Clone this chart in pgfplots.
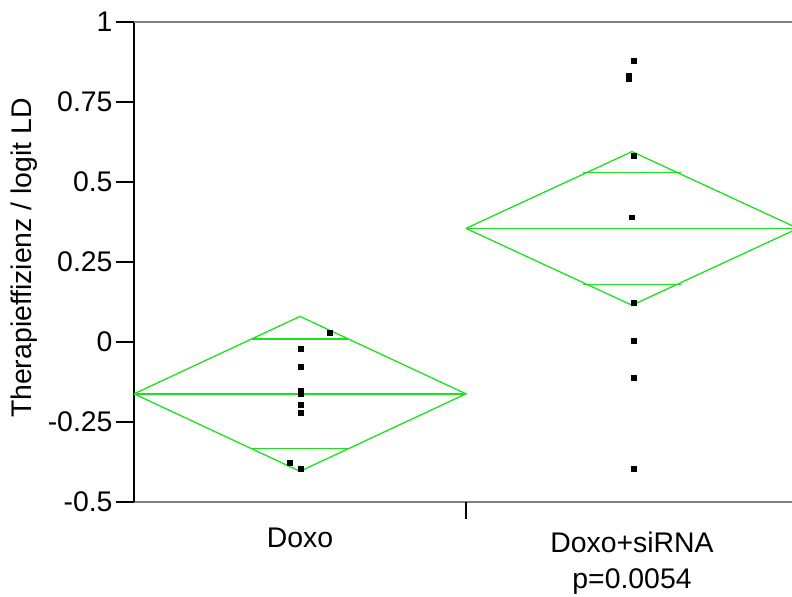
\documentclass[border=0pt]{standalone}
\usepackage{pgfplots}
\pgfplotsset{compat=1.18}
\usepackage{fontspec}
\setmainfont{Liberation Sans}
\definecolor{dgreen}{RGB}{30,225,30}
\begin{document}
\begin{tikzpicture}
\useasboundingbox (0,0) rectangle (792bp,597bp);
\begin{axis}[
 at={(134bp,95bp)}, anchor=south west,
 scale only axis, width=664bp, height=480bp,
 xmin=0, xmax=2, ymin=-0.5, ymax=1,
 clip mode=individual,
 axis lines=left, axis line style={-},
 x axis line style={draw=gray, line width=1.6bp},
 y axis line style={draw=black, line width=1.2bp},
 ytick={-0.5,-0.25,0,0.25,0.5,0.75,1},
 yticklabels={-0.5,-0.25,0,0.25,0.5,0.75,1},
 xtick={0.5,1.5}, xticklabels={Doxo,{\rule{0pt}{25bp}Doxo+siRNA\\[3bp]p=0.0054}},
 x tick label style={align=center, yshift=-4bp},
 xtick style={draw=none},
 ytick style={draw=black, line width=1.6bp},
 tick align=outside, major tick length=18bp,
 tick label style={font=\fontsize{28.5}{33}\selectfont},
 ylabel={Therapieffizienz / logit LD},
 ylabel style={xshift=4bp, yshift=4bp},
 label style={font=\fontsize{28.5}{33}\selectfont},
]
\draw[gray, line width=1.6bp] (rel axis cs:0,1) -- (rel axis cs:1,1);
\draw[black, line width=1.2bp] (axis cs:1,-0.5) -- ([yshift=-17bp]axis cs:1,-0.5);
% diamond Doxo
\addplot[dgreen, line width=1.3bp] coordinates {(0,-0.162) (0.5,0.080) (1,-0.162) (0.5,-0.404) (0,-0.162)};
\addplot[dgreen, line width=1.7bp] coordinates {(0,-0.162) (1,-0.162)};
\addplot[dgreen, line width=1.7bp] coordinates {(0.354,0.009) (0.646,0.009)};
\addplot[dgreen, line width=1.7bp] coordinates {(0.354,-0.333) (0.646,-0.333)};
% diamond Doxo+siRNA
\addplot[dgreen, line width=1.3bp] coordinates {(1,0.355) (1.5,0.595) (2,0.355) (1.5,0.115) (1,0.355)};
\addplot[dgreen, line width=1.7bp] coordinates {(1,0.355) (2,0.355)};
\addplot[dgreen, line width=1.7bp] coordinates {(1.351,0.530) (1.649,0.530)};
\addplot[dgreen, line width=1.7bp] coordinates {(1.351,0.180) (1.649,0.180)};
% points
\addplot[only marks, mark=square*, mark size=2.4bp, black] coordinates {
(0.59,0.030) (0.503,-0.020) (0.503,-0.078) (0.503,-0.152) (0.503,-0.162)
(0.503,-0.195) (0.503,-0.220) (0.47,-0.378) (0.503,-0.395)};
\addplot[only marks, mark=square*, mark size=2.4bp, black] coordinates {
(1.506,0.880) (1.49,0.833) (1.49,0.822) (1.506,0.581) (1.498,0.390)
(1.506,0.123) (1.506,0.005) (1.506,-0.112) (1.506,-0.395)};
\end{axis}
\end{tikzpicture}
\end{document}
